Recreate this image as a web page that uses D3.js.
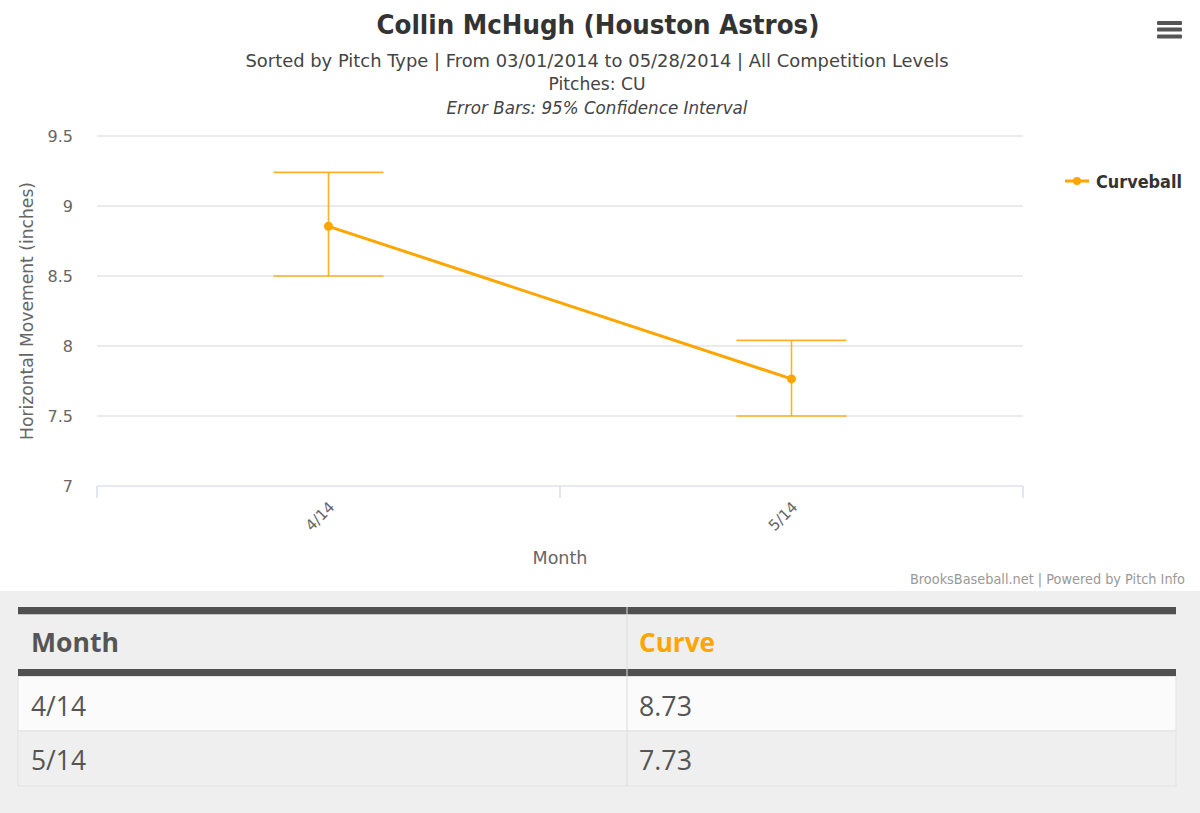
<!DOCTYPE html>
<html>
<head>
<meta charset="utf-8">
<script src="https://cdn.jsdelivr.net/npm/d3@7"></script>
<style>
html,body{margin:0;padding:0;background:#fff;}
body{width:1200px;height:813px;overflow:hidden;}
</style>
</head>
<body>
<svg id="chart" width="1200" height="813"></svg>
<script>
// ---- data ----
const months = ["4/14", "5/14"];
const curveball = [8.855, 7.765];
const ciLow = [8.50, 7.50];
const ciHigh = [9.24, 8.04];
const tableMonths = ["4/14", "5/14"];
const tableCurve = ["8.73", "7.73"];
const yTicks = [7, 7.5, 8, 8.5, 9, 9.5];
const seriesName = "Curveball";
const tableHeaders = ["Month", "Curve"];

const orange = "#FFA500";
const chartFont = "'DejaVu Sans', sans-serif";
const tableFont = "'Open Sans', sans-serif";

const svg = d3.select("#chart");

const x = d3.scaleBand().domain(months).range([97, 1023]);
const y = d3.scaleLinear().domain([7, 9.5]).range([486, 136]);

function fitText(sel, w) {
  return sel.attr("textLength", w).attr("lengthAdjust", "spacingAndGlyphs");
}

// titles
fitText(svg.append("text").attr("x", 598).attr("y", 34).attr("text-anchor", "middle")
  .attr("font-family", chartFont).attr("font-size", 26).attr("font-weight", "bold").attr("fill", "#333")
  .text("Collin McHugh (Houston Astros)"), 443);
const subs = [
  {t: "Sorted by Pitch Type | From 03/01/2014 to 05/28/2014 | All Competition Levels", y: 67, it: false, w: 703},
  {t: "Pitches: CU", y: 90, it: false, w: 97},
  {t: "Error Bars: 95% Confidence Interval", y: 114, it: true, w: 301}
];
subs.forEach(s => {
  fitText(svg.append("text").attr("x", 597).attr("y", s.y).attr("text-anchor", "middle")
    .attr("font-family", chartFont).attr("font-size", 18).attr("fill", "#444")
    .attr("font-style", s.it ? "italic" : "normal").text(s.t), s.w);
});

// hamburger menu
[23, 29.5, 36.5].forEach(yy => {
  svg.append("rect").attr("x", 1157).attr("y", yy - 2).attr("width", 25).attr("height", 4)
    .attr("rx", 1).attr("fill", "#555");
});

// gridlines
const gGrid = svg.append("g");
gGrid.selectAll("line").data(yTicks.filter(d => d !== 7)).join("line")
  .attr("x1", 97).attr("x2", 1023)
  .attr("y1", d => y(d)).attr("y2", d => y(d))
  .attr("stroke", "#d8d8d8").attr("stroke-width", 1.2);

// y axis
const yAxis = d3.axisLeft(y).tickValues(yTicks).tickSize(0).tickPadding(0).tickFormat(d3.format("~g"));
const gy = svg.append("g").attr("transform", "translate(73,0)").call(yAxis);
gy.select(".domain").remove();
gy.selectAll("text").attr("font-family", chartFont).attr("font-size", 16).attr("fill", "#666").attr("dy", "0.36em");

// x axis
const xAxis = d3.axisBottom(x).tickSize(0);
const gx = svg.append("g").attr("transform", "translate(0,486)").call(xAxis);
gx.select(".domain").attr("stroke", "#ccd6eb").attr("stroke-width", 1.2).attr("d", "M97,0H1023");
gx.selectAll(".tick line").remove();
gx.selectAll(".tick text").attr("font-family", chartFont).attr("font-size", 15).attr("fill", "#666")
  .attr("text-anchor", "end").attr("dy", "0").attr("y", 0)
  .attr("transform", "translate(7,22) rotate(-45)");
// tick marks on band boundaries
const bounds = months.map(m => x(m)).concat([x.range()[1]]);
svg.append("g").selectAll("line").data(bounds).join("line")
  .attr("x1", d => d).attr("x2", d => d).attr("y1", 486).attr("y2", 498)
  .attr("stroke", "#ccd6eb").attr("stroke-width", 1.2);

// axis titles
fitText(svg.append("text").attr("transform", "translate(33,311) rotate(-90)").attr("text-anchor", "middle")
  .attr("font-family", chartFont).attr("font-size", 17).attr("fill", "#666").text("Horizontal Movement (inches)"), 258);
fitText(svg.append("text").attr("x", 560).attr("y", 564).attr("text-anchor", "middle")
  .attr("font-family", chartFont).attr("font-size", 18).attr("fill", "#666").text("Month"), 55);

// error bars
const cx = m => x(m) + x.bandwidth() / 2;
const whisk = 55;
const gErr = svg.append("g").attr("stroke", orange).attr("stroke-width", 1.6).attr("stroke-opacity", 0.85);
months.forEach((m, i) => {
  gErr.append("line").attr("x1", cx(m)).attr("x2", cx(m)).attr("y1", y(ciLow[i])).attr("y2", y(ciHigh[i]));
  gErr.append("line").attr("x1", cx(m) - whisk).attr("x2", cx(m) + whisk).attr("y1", y(ciLow[i])).attr("y2", y(ciLow[i]));
  gErr.append("line").attr("x1", cx(m) - whisk).attr("x2", cx(m) + whisk).attr("y1", y(ciHigh[i])).attr("y2", y(ciHigh[i]));
});

// line + points
const line = d3.line().x((d, i) => cx(months[i])).y(d => y(d));
svg.append("path").datum(curveball).attr("d", line).attr("fill", "none")
  .attr("stroke", orange).attr("stroke-width", 3);
svg.append("g").selectAll("circle").data(curveball).join("circle")
  .attr("cx", (d, i) => cx(months[i])).attr("cy", d => y(d)).attr("r", 4.5).attr("fill", orange);

// legend
svg.append("line").attr("x1", 1065).attr("x2", 1089).attr("y1", 181).attr("y2", 181)
  .attr("stroke", orange).attr("stroke-width", 3);
svg.append("circle").attr("cx", 1077).attr("cy", 181).attr("r", 4).attr("fill", orange);
fitText(svg.append("text").attr("x", 1096).attr("y", 188).attr("font-family", chartFont)
  .attr("font-size", 18.5).attr("font-weight", "bold").attr("fill", "#333").text(seriesName), 86);

// credits
fitText(svg.append("text").attr("x", 1185).attr("y", 584).attr("text-anchor", "end")
  .attr("font-family", chartFont).attr("font-size", 13.5).attr("fill", "#999")
  .text("BrooksBaseball.net | Powered by Pitch Info"), 275);

// ---- table ----
svg.append("rect").attr("x", 0).attr("y", 591).attr("width", 1200).attr("height", 222).attr("fill", "#efefef");
const tx0 = 18, tx1 = 1176, colX = 627;
svg.append("rect").attr("x", tx0).attr("y", 607).attr("width", tx1 - tx0).attr("height", 7.5).attr("fill", "#505050");
svg.append("rect").attr("x", tx0).attr("y", 614.5).attr("width", tx1 - tx0).attr("height", 54.5).attr("fill", "#efefef");
svg.append("rect").attr("x", tx0).attr("y", 669).attr("width", tx1 - tx0).attr("height", 7.5).attr("fill", "#505050");
const rowY = [676.5, 731];
const rowH = [54.5, 55];
const rowFill = ["#fbfbfb", "#efefef"];
tableMonths.forEach((m, i) => {
  svg.append("rect").attr("x", tx0).attr("y", rowY[i]).attr("width", tx1 - tx0).attr("height", rowH[i])
    .attr("fill", rowFill[i]).attr("stroke", "#e2e2e2").attr("stroke-width", 1);
});
svg.append("line").attr("x1", colX).attr("x2", colX).attr("y1", 607).attr("y2", 786)
  .attr("stroke", "#dcdcdc").attr("stroke-width", 1);
fitText(svg.append("text").attr("x", 31).attr("y", 652).attr("font-family", tableFont).attr("font-size", 27)
  .attr("font-weight", "bold").attr("fill", "#555").text(tableHeaders[0]), 88);
fitText(svg.append("text").attr("x", 639).attr("y", 652).attr("font-family", tableFont).attr("font-size", 27)
  .attr("font-weight", "bold").attr("fill", orange).text(tableHeaders[1]), 76);
tableMonths.forEach((m, i) => {
  fitText(svg.append("text").attr("x", 31).attr("y", rowY[i] + 39).attr("font-family", tableFont).attr("font-size", 28)
    .attr("fill", "#555").text(m), 55);
  fitText(svg.append("text").attr("x", 639).attr("y", rowY[i] + 39).attr("font-family", tableFont).attr("font-size", 28)
    .attr("fill", "#555").text(tableCurve[i]), 53);
});
</script>
</body>
</html>
